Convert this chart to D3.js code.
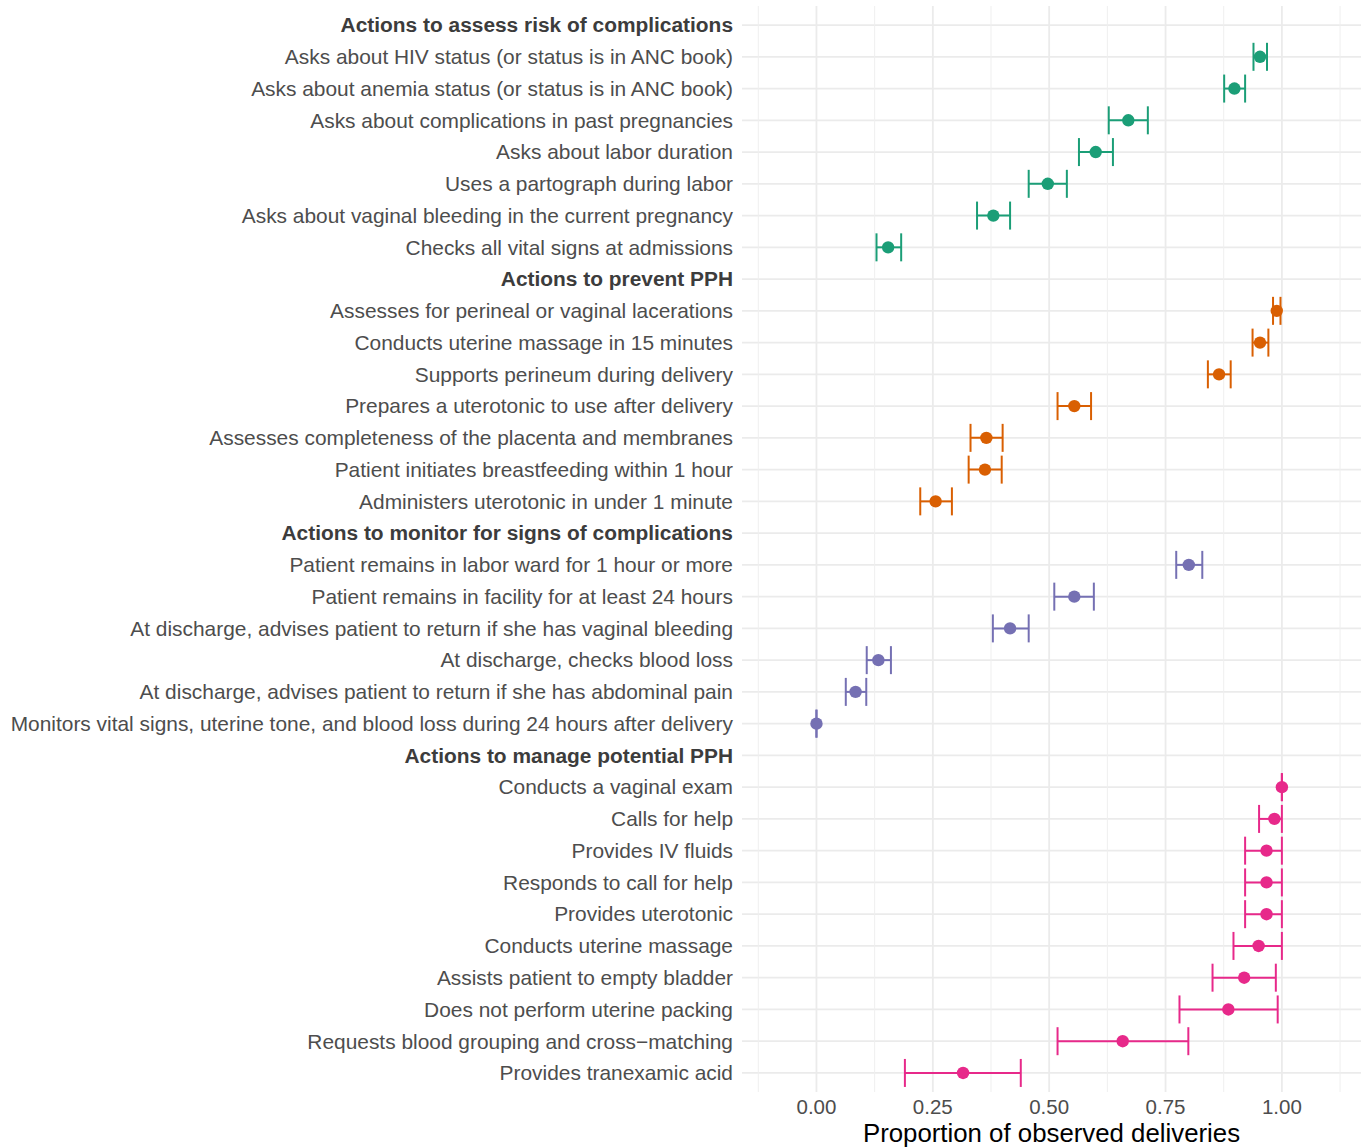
<!DOCTYPE html>
<html>
<head>
<meta charset="utf-8">
<script src="https://cdn.jsdelivr.net/npm/d3@7"></script>
<style>
  html, body { margin: 0; padding: 0; background: #ffffff; }
  svg { display: block; font-family: "Liberation Sans", Arial, sans-serif; }
</style>
</head>
<body>
<svg id="chart" width="1362" height="1147"></svg>
<script>
// Group headings, in display order
const groupTitles = [
  "Actions to assess risk of complications",
  "Actions to prevent PPH",
  "Actions to monitor for signs of complications",
  "Actions to manage potential PPH"
];

// Items, their group, point estimate and 95% interval
const itemLabels = [
  "Asks about HIV status (or status is in ANC book)",
  "Asks about anemia status (or status is in ANC book)",
  "Asks about complications in past pregnancies",
  "Asks about labor duration",
  "Uses a partograph during labor",
  "Asks about vaginal bleeding in the current pregnancy",
  "Checks all vital signs at admissions",
  "Assesses for perineal or vaginal lacerations",
  "Conducts uterine massage in 15 minutes",
  "Supports perineum during delivery",
  "Prepares a uterotonic to use after delivery",
  "Assesses completeness of the placenta and membranes",
  "Patient initiates breastfeeding within 1 hour",
  "Administers uterotonic in under 1 minute",
  "Patient remains in labor ward for 1 hour or more",
  "Patient remains in facility for at least 24 hours",
  "At discharge, advises patient to return if she has vaginal bleeding",
  "At discharge, checks blood loss",
  "At discharge, advises patient to return if she has abdominal pain",
  "Monitors vital signs, uterine tone, and blood loss during 24 hours after delivery",
  "Conducts a vaginal exam",
  "Calls for help",
  "Provides IV fluids",
  "Responds to call for help",
  "Provides uterotonic",
  "Conducts uterine massage",
  "Assists patient to empty bladder",
  "Does not perform uterine packing",
  "Requests blood grouping and cross\u2212matching",
  "Provides tranexamic acid"
];
const itemGroup = [0,0,0,0,0,0,0, 1,1,1,1,1,1,1, 2,2,2,2,2,2, 3,3,3,3,3,3,3,3,3,3];
const estimates = [
  0.953, 0.898, 0.670, 0.600, 0.497, 0.380, 0.154,
  0.989, 0.953, 0.865, 0.554, 0.365, 0.362, 0.256,
  0.800, 0.554, 0.416, 0.133, 0.084, 0.000,
  1.000, 0.984, 0.967, 0.967, 0.967, 0.950, 0.919, 0.885, 0.658, 0.315
];
const lowerCI = [
  0.939, 0.876, 0.628, 0.564, 0.456, 0.345, 0.129,
  0.981, 0.937, 0.841, 0.518, 0.331, 0.327, 0.223,
  0.773, 0.511, 0.379, 0.108, 0.063, 0.000,
  1.000, 0.951, 0.921, 0.921, 0.921, 0.896, 0.851, 0.780, 0.518, 0.190
];
const upperCI = [
  0.968, 0.921, 0.712, 0.637, 0.538, 0.416, 0.182,
  0.997, 0.971, 0.890, 0.590, 0.400, 0.398, 0.291,
  0.829, 0.596, 0.456, 0.160, 0.107, 0.000,
  1.000, 1.000, 1.000, 1.000, 1.000, 1.000, 0.987, 0.991, 0.799, 0.439
];
const groupColors = ["#1B9E77", "#D95F02", "#7570B3", "#E7298A"];
const xTicks = [0, 0.25, 0.5, 0.75, 1];
const xMinorTicks = [-0.125, 0.125, 0.375, 0.625, 0.875, 1.125];
const xTitle = "Proportion of observed deliveries";

// Build the row order: heading followed by its items
const rows = [];
groupTitles.forEach((title, g) => {
  rows.push({ label: title, heading: true, group: g });
  itemLabels.forEach((lab, i) => {
    if (itemGroup[i] === g) {
      rows.push({ label: lab, heading: false, group: g,
                  est: estimates[i], lo: lowerCI[i], hi: upperCI[i] });
    }
  });
});

const svg = d3.select("#chart");
const panel = { left: 742, right: 1361, top: 6, bottom: 1092 };

const x = d3.scaleLinear().domain([-0.16, 1.17]).range([panel.left, panel.right]);
const y = d3.scalePoint().domain(rows.map(r => r.label))
  .range([panel.top, panel.bottom]).padding(0.6);

const grid = svg.append("g");
// horizontal grid, one line per row
grid.selectAll("line.h").data(rows).join("line")
  .attr("x1", panel.left).attr("x2", panel.right)
  .attr("y1", d => y(d.label)).attr("y2", d => y(d.label))
  .attr("stroke", "#EBEBEB").attr("stroke-width", 1.8);
// minor vertical grid
grid.selectAll("line.vm").data(xMinorTicks).join("line")
  .attr("x1", d => x(d)).attr("x2", d => x(d))
  .attr("y1", panel.top).attr("y2", panel.bottom)
  .attr("stroke", "#EFEFEF").attr("stroke-width", 1);
// major vertical grid
grid.selectAll("line.vM").data(xTicks, d => d).join("line")
  .attr("x1", d => x(d)).attr("x2", d => x(d))
  .attr("y1", panel.top).attr("y2", panel.bottom)
  .attr("stroke", "#EBEBEB").attr("stroke-width", 1.8);

// row labels
svg.append("g").selectAll("text").data(rows).join("text")
  .attr("x", 733).attr("y", d => y(d.label))
  .attr("dy", "0.35em")
  .attr("text-anchor", "end")
  .attr("font-size", 20.9)
  .attr("font-weight", d => d.heading ? "bold" : "normal")
  .attr("fill", d => d.heading ? "#3c3c3c" : "#4D4D4D")
  .text(d => d.label);

// error bars and points
const items = rows.filter(r => !r.heading);
const capHalf = 14;
const marks = svg.append("g");
const eb = marks.selectAll("g").data(items).join("g")
  .attr("stroke", d => groupColors[d.group])
  .attr("stroke-width", 2);
eb.append("line")
  .attr("x1", d => x(d.lo)).attr("x2", d => x(d.hi))
  .attr("y1", d => y(d.label)).attr("y2", d => y(d.label));
eb.append("line")
  .attr("x1", d => x(d.lo)).attr("x2", d => x(d.lo))
  .attr("y1", d => y(d.label) - capHalf).attr("y2", d => y(d.label) + capHalf);
eb.append("line")
  .attr("x1", d => x(d.hi)).attr("x2", d => x(d.hi))
  .attr("y1", d => y(d.label) - capHalf).attr("y2", d => y(d.label) + capHalf);
marks.selectAll("circle").data(items).join("circle")
  .attr("cx", d => x(d.est)).attr("cy", d => y(d.label))
  .attr("r", 6.2)
  .attr("fill", d => groupColors[d.group]);

// x axis tick labels
svg.append("g").selectAll("text").data(xTicks).join("text")
  .attr("x", d => x(d)).attr("y", 1107)
  .attr("dy", "0.35em")
  .attr("text-anchor", "middle")
  .attr("font-size", 20.5)
  .attr("fill", "#4D4D4D")
  .text(d => d3.format(".2f")(d));

// x axis title
svg.append("text")
  .attr("x", (panel.left + panel.right) / 2).attr("y", 1133)
  .attr("dy", "0.35em")
  .attr("text-anchor", "middle")
  .attr("font-size", 25.8)
  .attr("fill", "#000000")
  .text(xTitle);
</script>
</body>
</html>
